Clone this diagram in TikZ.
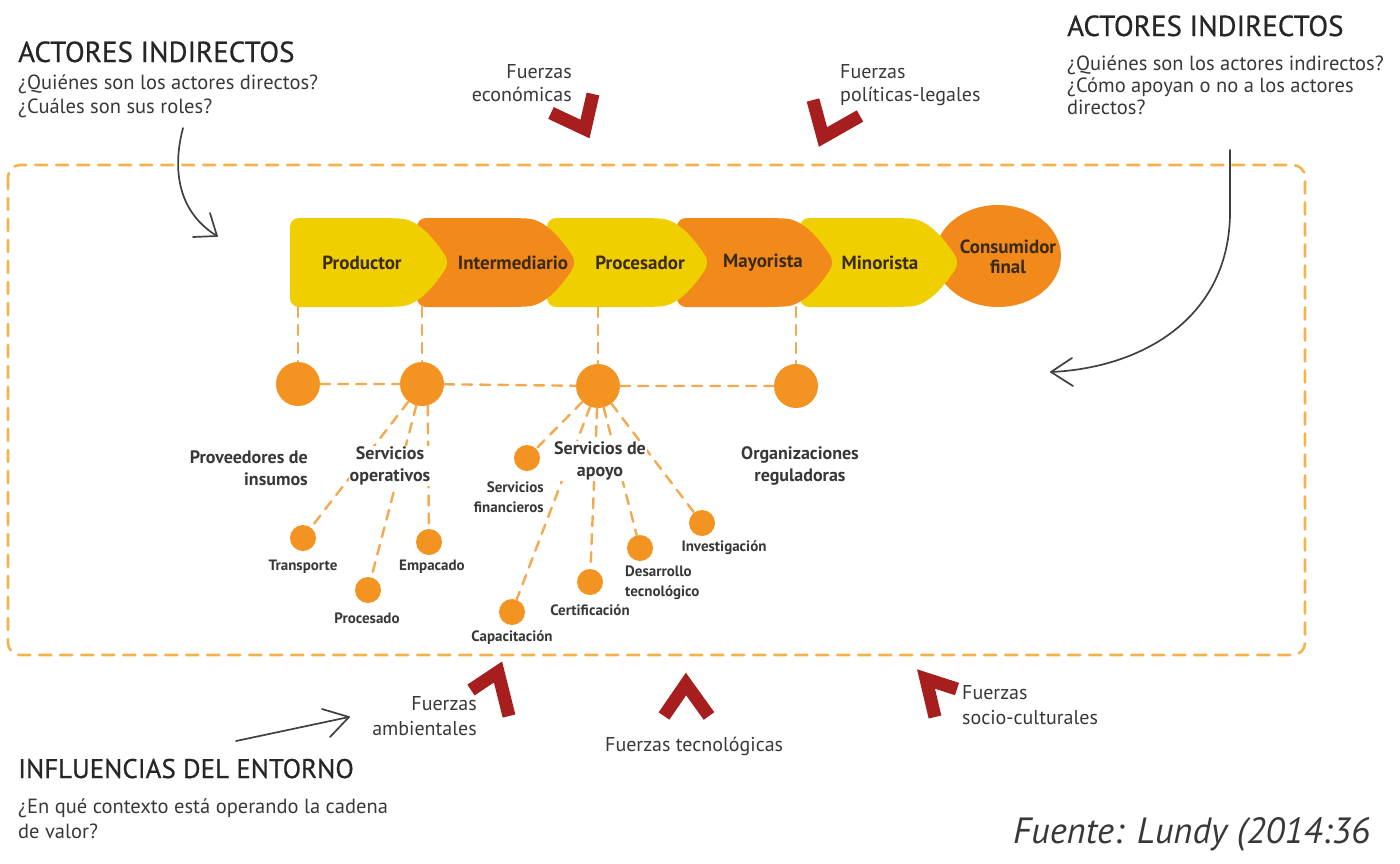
\documentclass[tikz,border=0pt]{standalone}
\usepackage{fontspec}
\setmainfont{PT Sans}
\newfontfamily\titular[FakeBold=0.6]{PT Sans}
\usetikzlibrary{calc}

\definecolor{amarillo}{HTML}{EFCF00}
\definecolor{naranja}{HTML}{F18A1A}
\definecolor{bolita}{HTML}{F39322}
\definecolor{marcoclr}{HTML}{F5B24C}
\definecolor{vino}{HTML}{A61E1E}
\definecolor{tinta}{HTML}{383838}
\definecolor{cafe}{HTML}{3B2A14}
\definecolor{trazo}{HTML}{404040}

\tikzset{
  marco/.style={draw=marcoclr, line width=2.6pt, dash pattern=on 12pt off 9pt, rounded corners=12pt},
  enlace/.style={draw=bolita!80!white, line width=2.4pt, dash pattern=on 10pt off 8pt},
  nodo/.style={circle, fill=bolita, minimum size=44pt, inner sep=0pt},
  subnodo/.style={circle, fill=bolita, minimum size=26pt, inner sep=0pt},
  eslabon/.style={font=\bfseries\fontsize{19}{20}\selectfont, text=cafe, align=center},
  actor/.style={font=\bfseries\fontsize{18}{22}\selectfont, text=tinta, align=center, fill=white, inner sep=1pt},
  servicio/.style={font=\bfseries\fontsize{15}{20}\selectfont, text=tinta, align=center, fill=white, inner sep=1pt},
  fuerza/.style={draw=vino, line width=13pt, line join=miter, line cap=butt},
  rotulo/.style={font=\fontsize{20}{25}\selectfont, text=tinta, inner sep=0pt},
  titulo/.style={font=\titular\fontsize{29}{30}\selectfont, text=black!85, inner sep=0pt},
  pregunta/.style={font=\fontsize{20.5}{24}\selectfont, text=tinta, inner sep=0pt, align=left},
  mano/.style={draw=trazo, line width=1.7pt, line cap=round, line join=round},
}

% one link of the chain: left edge, tip, colour
\newcommand{\eslabon}[3]{%
  \fill[#3, rounded corners=9pt] (#1,218) -- ({#2-58},218)
    .. controls ({#2-28},220) and ({#2-10},248) .. (#2,262.5)
    .. controls ({#2-10},277) and ({#2-28},305) .. ({#2-58},307) -- (#1,307) -- cycle;}

\begin{document}
\begin{tikzpicture}[x=1pt,y=-1pt,line cap=round,line join=round]
  \useasboundingbox (0,0) rectangle (1400,863);

  % dashed frame
  \draw[marco] (8,165) rectangle (1305,655);

  % chain, last link first
  \fill[naranja] (998,256) ellipse [x radius=63, y radius=51];
  \eslabon{800}{960}{amarillo}
  \eslabon{677}{835}{naranja}
  \eslabon{547}{710}{amarillo}
  \eslabon{417}{577}{naranja}
  \eslabon{290}{450}{amarillo}
  \node[eslabon] (productor) at (362,263) {Productor};
  \node[eslabon] (intermediario) at (513,263) {Intermediario};
  \node[eslabon] (procesador) at (640,263) {Procesador};
  \node[eslabon] (mayorista) at (763,263) {Mayorista};
  \node[eslabon] (minorista) at (880,263) {Minorista};
  \node[eslabon] (consumidor) at (1008,257) {Consumidor\\final};

  \coordinate (baseProd) at (298,307);
  \coordinate (baseInter) at (422,307);
  \coordinate (baseProc) at (598,307);
  \coordinate (baseMay) at (796,307);

  % indirect actors
  \node[nodo] (proveedores) at (298,384) {};
  \node[nodo] (operativos) at (422,384) {};
  \node[nodo] (apoyo) at (598,386) {};
  \node[nodo] (reguladoras) at (796,386) {};

  \draw[enlace] (baseProd) -- (proveedores);
  \draw[enlace] (baseInter) -- (operativos);
  \draw[enlace] (baseProc) -- (apoyo);
  \draw[enlace] (baseMay) -- (reguladoras);
  \draw[enlace] (proveedores) -- (operativos) -- (apoyo) -- (reguladoras);

  \node[subnodo] (transporte) at (303,538) {};
  \node[subnodo] (procesado) at (368,590) {};
  \node[subnodo] (empacado) at (429,542) {};
  \node[subnodo] (financieros) at (527,458) {};
  \node[subnodo] (capacitacion) at (512,612) {};
  \node[subnodo] (certificacion) at (590,582) {};
  \node[subnodo] (desarrollo) at (640,548) {};
  \node[subnodo] (investigacion) at (702,523) {};

  \draw[enlace] (operativos) -- (transporte);
  \draw[enlace] (operativos) -- (procesado);
  \draw[enlace] (operativos.-75) -- (empacado);
  \draw[enlace] (apoyo) -- (financieros);
  \draw[enlace] (apoyo) -- (capacitacion);
  \draw[enlace] (apoyo) -- (certificacion);
  \draw[enlace] (apoyo) -- (desarrollo);
  \draw[enlace] (apoyo) -- (investigacion);

  \node[actor, align=right, anchor=east] (proveedoresLbl) at (309,468) {Proveedores de\\insumos};
  \node[actor] (operativosLbl) at (390,466) {Servicios\\operativos};
  \node[actor] (apoyoLbl) at (600,461) {Servicios de\\apoyo};
  \node[actor] (reguladorasLbl) at (800,466) {Organizaciones\\reguladoras};

  \node[servicio] (transporteLbl) at (303,567) {Transporte};
  \node[servicio] (procesadoLbl) at (367,618) {Procesado};
  \node[servicio] (empacadoLbl) at (432,567) {Empacado};
  \node[servicio, align=right, anchor=east] (financierosLbl) at (545,497) {Servicios\\financieros};
  \node[servicio] (capacitacionLbl) at (512,638) {Capacitación};
  \node[servicio] (certificacionLbl) at (590,610) {Certificación};
  \node[servicio, align=left, anchor=west] (desarrolloLbl) at (624,583) {Desarrollo\\tecnológico};
  \node[servicio] (investigacionLbl) at (724,548) {Investigación};

  % texts around the frame
  \node[titulo, anchor=base west] (tituloIzq) at (18,62) {ACTORES INDIRECTOS};
  \node[pregunta, anchor=base west] (preguntaIzq) at (18,113) {¿Quiénes son los actores directos?\\¿Cuáles son sus roles?};
  \node[titulo, anchor=base west] (tituloDer) at (1067,36) {ACTORES INDIRECTOS};
  \node[pregunta, anchor=base west, font=\fontsize{20.5}{22}\selectfont] (preguntaDer) at (1067,114) {¿Quiénes son los actores indirectos?\\¿Cómo apoyan o no a los actores\\directos?};
  \node[titulo, anchor=base west, font=\titular\fontsize{27}{30}\selectfont] (tituloEnt) at (18,778) {INFLUENCIAS DEL ENTORNO};
  \node[pregunta, anchor=base west, font=\fontsize{20.5}{25}\selectfont] (preguntaEnt) at (18,838) {¿En qué contexto está operando la cadena\\de valor?};
  \node[rotulo, anchor=base west, font=\itshape\fontsize{36.5}{37}\selectfont] (fuente) at (1013,843) {Fuente: Lundy (2014:36};

  % forces
  \node[rotulo, align=right, anchor=base east, font=\fontsize{20}{23}\selectfont] (economicas) at (572,101) {Fuerzas\\económicas};
  \node[rotulo, align=left, anchor=base west, font=\fontsize{20}{23}\selectfont] (politicas) at (840,101) {Fuerzas\\políticas-legales};
  \node[rotulo, align=right, anchor=base east] (ambientales) at (477,735) {Fuerzas\\ambientales};
  \node[rotulo, anchor=base west] (tecnologicas) at (605,751) {Fuerzas tecnológicas};
  \node[rotulo, align=left, anchor=base west] (socioculturales) at (962,724) {Fuerzas\\socio-culturales};

  \draw[fuerza] (551,113) -- (585,129) -- (593,94);
  \draw[fuerza] (813,100) -- (823,137) -- (860,116);
  \draw[fuerza] (471,690) -- (498,672) -- (509,716);
  \draw[fuerza] (664,716) -- (686,684) -- (709,716);
  \draw[fuerza] (957,689) -- (926,679) -- (935,717);

  % hand drawn arrows
  \coordinate (flechaIzqIni) at (183,128);
  \coordinate (flechaIzqFin) at (217,236);
  \draw[mano] (flechaIzqIni) .. controls (172,170) and (178,212) .. (flechaIzqFin);
  \draw[mano] (210,213) -- (flechaIzqFin) -- (193,237);

  \coordinate (flechaDerIni) at (1230,150);
  \coordinate (flechaDerFin) at (1051,372);
  \draw[mano] (flechaDerIni) -- (1230,215) .. controls (1228,320) and (1140,368) .. (flechaDerFin);
  \draw[mano] (1072,358) -- (flechaDerFin) -- (1073,386);

  \coordinate (flechaEntIni) at (236,741);
  \coordinate (flechaEntFin) at (349,717);
  \draw[mano] (flechaEntIni) -- (flechaEntFin);
  \draw[mano] (322,709) -- (flechaEntFin) -- (330,737);
\end{tikzpicture}
\end{document}
